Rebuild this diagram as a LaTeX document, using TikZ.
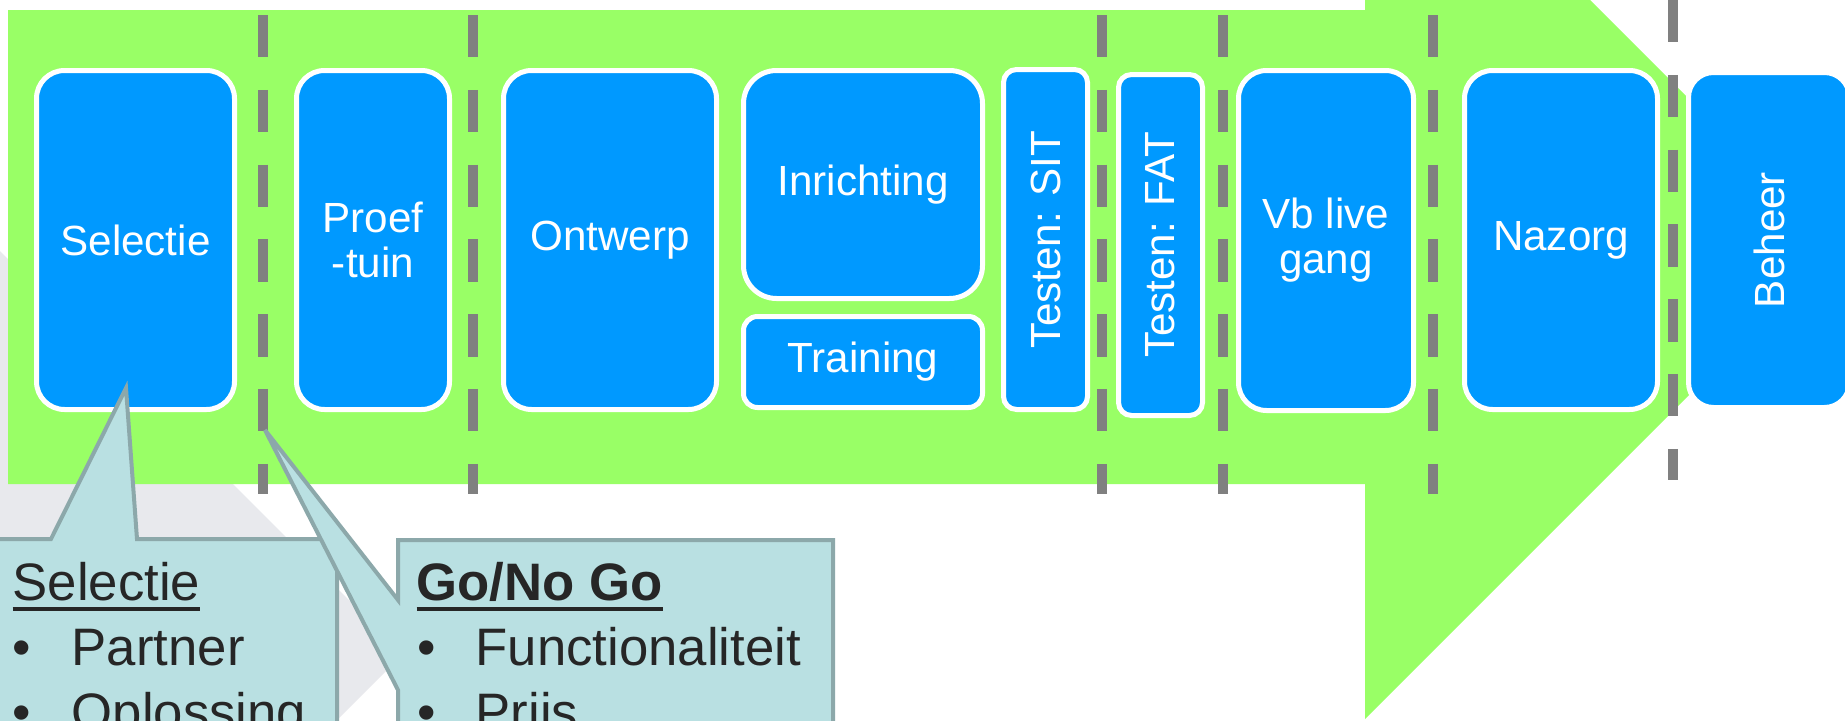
\documentclass[tikz,border=0pt]{standalone}
\usepackage{fontspec}
\setmainfont{Liberation Sans}
\usepackage{tikz}

\definecolor{arrowgreen}{RGB}{153,255,102}
\definecolor{phaseblue}{RGB}{0,153,255}
\definecolor{gategray}{RGB}{128,128,128}
\definecolor{notefill}{RGB}{185,224,226}
\definecolor{noteline}{RGB}{140,168,170}
\definecolor{notedark}{RGB}{38,38,38}
\definecolor{shadegray}{RGB}{232,233,237}

\newcommand{\ulined}[1]{\setbox0\hbox{#1}\rlap{\rule[-1.09mm]{\wd0}{0.38mm}}\box0}

\begin{document}
\begin{tikzpicture}[x = 0.1mm, y = -0.1mm,
	phase/.style = {draw = white, line width = 0.5mm, fill = phaseblue, text = white, align = center,
		font = \fontsize{12}{12.8}\selectfont, rounded corners = 2.8mm, inner sep = 0pt},
	gate/.style = {gategray, line width = 1mm, dash pattern = on 4.25mm off 3.23mm},
	note/.style = {draw = noteline, fill = notefill, line width = 0.4mm},
	notetext/.style = {text = notedark, font = \fontsize{15}{18}\selectfont, inner sep = 0pt, anchor = base west}]
	
		\useasboundingbox (0, 0) rectangle (1845, 721);
		\clip (0, 0) rectangle (1845, 721);
		\fill[white] (0, 0) rectangle (1845, 721);
		
		\fill[shadegray] (-10, 241) -- (403, 654) -- (303, 754) -- (-10, 754) -- cycle;
		\fill[arrowgreen] (8, 10) -- (1365, 10) -- (1365, -225) -- (1837, 247) -- (1365, 719) -- (1365, 484) -- (8, 484) -- cycle;
		
		\node[phase, minimum width = 19.8mm, minimum height = 33.9mm] (selectie) at (135.5, 240) {Selectie};
		\node[phase, minimum width = 15.3mm, minimum height = 33.9mm] (proeftuin) at (373, 240) {Proef\\-tuin};
		\node[phase, minimum width = 21.3mm, minimum height = 33.9mm] (ontwerp) at (610, 240) {Ontwerp};
		\node[phase, minimum width = 23.9mm, minimum height = 22.8mm, rounded corners = 3.3mm] (inrichting) at (863, 184.5) {Inrichting};
		\node[phase, minimum width = 23.9mm, minimum height = 9.1mm, rounded corners = 1.4mm] (training) at (863, 362) {Training};
		\node[phase, rotate = 90, minimum width = 34mm, minimum height = 8.4mm, rounded corners = 1.3mm] (sit) at (1045.5, 239.5) {Testen: SIT};
		\node[phase, rotate = 90, minimum width = 34.1mm, minimum height = 8.4mm, rounded corners = 1.3mm] (fat) at (1160.5, 245) {Testen: FAT};
		\node[phase, minimum width = 17.5mm, minimum height = 34mm] (vblive) at (1326, 240.5) {Vb live\\gang};
		\node[phase, minimum width = 19.3mm, minimum height = 33.9mm] (nazorg) at (1561, 240) {Nazorg};
		\node[phase, rotate = 90, minimum width = 33.5mm, minimum height = 16.1mm, rounded corners = 2.5mm] (beheer) at (1769, 240) {Beheer};
		
		\foreach \x in {263, 473, 1102, 1223, 1433}
			\draw[gate] (\x, 15) -- (\x, 494);
		\draw[gate] (1673, 0) -- (1673, 480);
		
		\draw[note] (-10, 760) -- (-10, 539) -- (51, 539) -- (126, 388) -- (137, 539) -- (337, 539) -- (337, 760) -- cycle;
		\node[notetext] (seltitle) at (12, 600) {\ulined{Selectie}};
		\node[notetext] (selpartner) at (12, 665) {\makebox[5.9mm][l]{\textbullet}Partner};
		\node[notetext] (seloplossing) at (12, 730) {\makebox[5.9mm][l]{\textbullet}Oplossing};
		
		\draw[note] (398, 760) -- (398, 690) -- (265, 430) -- (398, 600) -- (398, 540) -- (833, 540) -- (833, 760) -- cycle;
		\node[notetext] (gotitle) at (416, 600) {\bfseries\ulined{Go/No Go}};
		\node[notetext] (gofunctie) at (417, 665) {\makebox[5.8mm][l]{\textbullet}Functionaliteit};
		\node[notetext] (goprijs) at (417, 730) {\makebox[5.8mm][l]{\textbullet}Prijs};
		
		%		\draw[gate] (1673, 480) -- (1673, 721);
	\end{tikzpicture}
\end{document}
